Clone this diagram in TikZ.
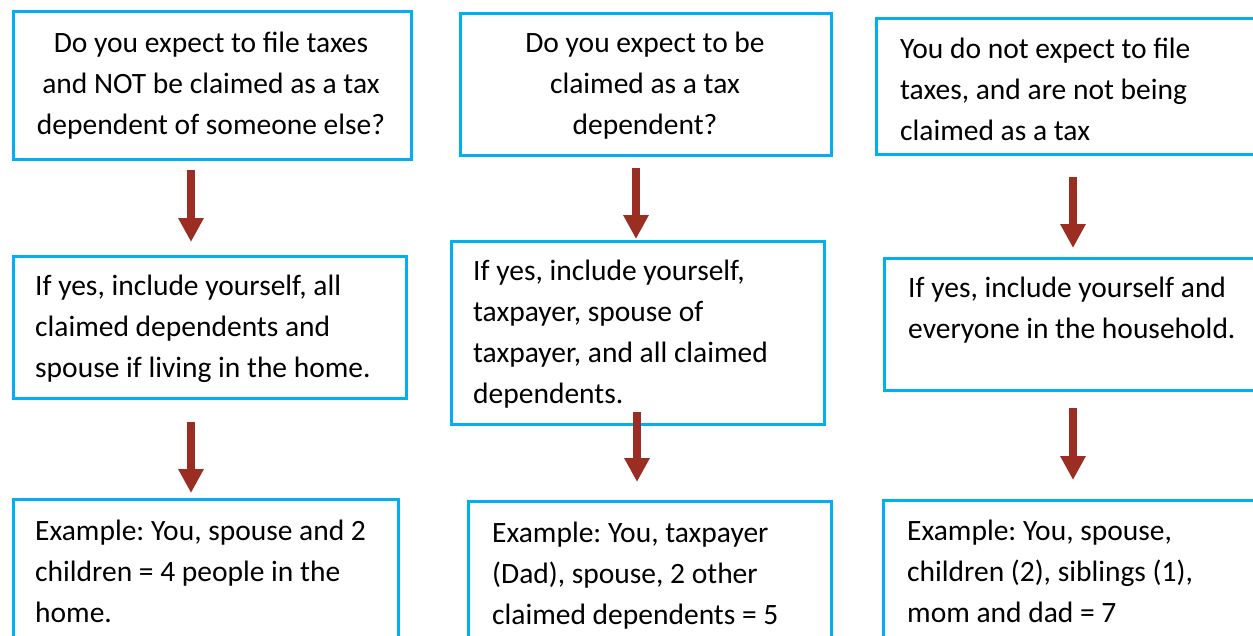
\documentclass[tikz,border=0pt]{standalone}
\usepackage{fontspec}
\setmainfont{Carlito}
\usetikzlibrary{arrows.meta}
\definecolor{boxblue}{HTML}{00B0F0}
\definecolor{arrred}{HTML}{9A2E22}
\newcommand\leftlines[1]{\vtop{\halign{##\hfil\cr#1\crcr}}}
\newcommand\centerlines[1]{\vtop{\halign{\hfil##\hfil\cr#1\crcr}}}
\frenchspacing
\begin{document}
\begin{tikzpicture}[x=1pt,y=-1pt,
  box/.style={draw=boxblue, line width=3pt, inner sep=0pt, anchor=north west},
  txt/.style={inner sep=0pt, font=\fontsize{29.5}{41}\selectfont, text=black},
  downarrow/.style={draw=arrred, line width=8pt, -{Triangle[width=24pt,length=24pt]}}]
\useasboundingbox (0,0) rectangle (1253,635);
\clip (0,0) rectangle (1253,635);
% boxes
\node[box, minimum width=398pt, minimum height=148pt] (a1) at (12,10) {};
\node[box, minimum width=371pt, minimum height=142pt] (b1) at (459,12) {};
\node[box, minimum width=395pt, minimum height=136pt] (c1) at (875,17) {};
\node[box, minimum width=393pt, minimum height=142pt] (a2) at (12,255) {};
\node[box, minimum width=373pt, minimum height=183pt] (b2) at (450,240) {};
\node[box, minimum width=387pt, minimum height=132pt] (c2) at (883,257) {};
\node[box, minimum width=385pt, minimum height=162pt] (a3) at (12,498) {};
\node[box, minimum width=363pt, minimum height=160pt] (b3) at (467,500) {};
\node[box, minimum width=388pt, minimum height=161pt] (c3) at (882,499) {};
% texts
\node[txt, anchor=base] (ta1) at (211,52) {\centerlines{Do you expect to file taxes\cr and NOT be claimed as a tax\cr dependent of someone else?}};
\node[txt, anchor=base] (tb1) at (645,52) {\centerlines{Do you expect to be\cr claimed as a tax\cr dependent?}};
\node[txt, anchor=base west] (tc1) at (900,58) {\leftlines{You do not expect to file\cr taxes, and are not being\cr claimed as a tax}};
\node[txt, anchor=base west] (ta2) at (35,295) {\leftlines{If yes, include yourself, all\cr claimed dependents and\cr spouse if living in the home.}};
\node[txt, anchor=base west] (tb2) at (473,280) {\leftlines{If yes, include yourself,\cr taxpayer, spouse of\cr taxpayer, and all claimed\cr dependents.}};
\node[txt, anchor=base west] (tc2) at (908,297) {\leftlines{If yes, include yourself and\cr everyone in the household.}};
\node[txt, anchor=base west] (ta3) at (35,540) {\leftlines{Example: You, spouse and 2\cr children = 4 people in the\cr home.}};
\node[txt, anchor=base west] (tb3) at (492,542) {\leftlines{Example: You, taxpayer\cr (Dad), spouse, 2 other\cr claimed dependents = 5}};
\node[txt, anchor=base west] (tc3) at (907,540) {\leftlines{Example: You, spouse,\cr children (2), siblings (1),\cr mom and dad = 7}};
% arrow end points
\coordinate (sa1) at (191,170); \coordinate (ea1) at (191,242);
\coordinate (sb1) at (636,168); \coordinate (eb1) at (636,239);
\coordinate (sc1) at (1073,177); \coordinate (ec1) at (1073,248);
\coordinate (sa2) at (191,422); \coordinate (ea2) at (191,493);
\coordinate (sb2) at (637,412); \coordinate (eb2) at (637,482);
\coordinate (sc2) at (1073,408); \coordinate (ec2) at (1073,480);
\draw[downarrow] (sa1) -- (ea1);
\draw[downarrow] (sb1) -- (eb1);
\draw[downarrow] (sc1) -- (ec1);
\draw[downarrow] (sa2) -- (ea2);
\draw[downarrow] (sb2) -- (eb2);
\draw[downarrow] (sc2) -- (ec2);
\end{tikzpicture}
\end{document}
